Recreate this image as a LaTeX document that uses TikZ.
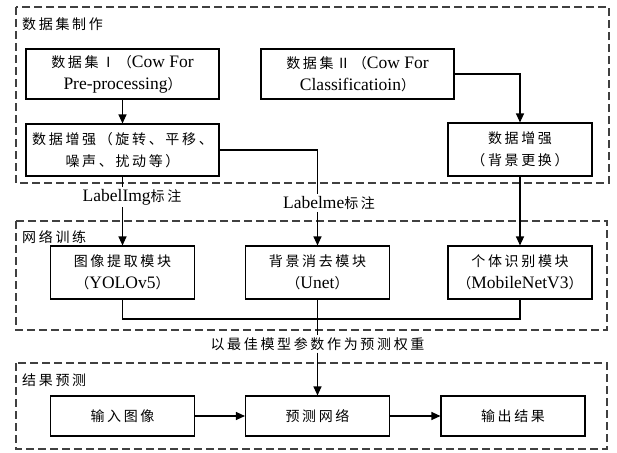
\documentclass[tikz,border=0pt]{standalone}
\usepackage{fontspec}
\setmainfont{Liberation Serif}
\newfontfamily\cjk[LetterSpace=19]{Noto Sans CJK SC}
\usetikzlibrary{arrows.meta,positioning}
\newcommand{\en}[1]{{\rmfamily\fontsize{17.5}{22}\selectfont #1}}

\begin{document}
\begin{tikzpicture}[x=1pt, y=-1pt,
    box/.style={draw, line width=1.1pt, align=center, inner sep=1pt, minimum width=144pt, minimum height=53pt, font=\cjk\fontsize{14}{22}\selectfont},
    wbox/.style={box, minimum width=193pt, minimum height=50pt},
    fbox/.style={box, minimum height=40pt},
    lbl/.style={inner sep=2pt, font=\cjk\fontsize{14}{20}\selectfont},
    title/.style={anchor=west, inner sep=0pt, font=\cjk\fontsize{14}{20}\selectfont},
    grp/.style={draw=black!75, line width=1.2pt, dash pattern=on 8pt off 4pt},
    arr/.style={-{Triangle[length=9pt, width=8pt]}, line width=1.1pt}
]
\useasboundingbox (0,0) rectangle (617,452);
% frames
\draw[grp] (16,7) rectangle (609,183);
\draw[grp] (16,221) rectangle (607,330);
\draw[grp] (16,363) rectangle (607,449);
\node[title] (t1) at (22,24) {数据集制作};
\node[title] (t2) at (22,237) {网络训练};
\node[title] (t3) at (22,380) {结果预测};
% data set
\node[wbox] (set1) at (122.5,74) {数据集Ⅰ（\en{Cow For}\\\en{Pre-processing}）};
\node[wbox] (set2) at (357.5,74) {数据集Ⅱ（\en{Cow For}\\\en{Classificatioin}）};
\node[wbox, minimum height=52pt] (aug1) at (122.5,150) {数据增强（旋转、平移、\\噪声、扰动等）};
\node[box] (aug2) at (520,149.5) {数据增强\\（背景更换）};
% training
\node[box] (yolo) at (122.5,272.5) {图像提取模块\\（\en{YOLOv5}）};
\node[box] (unet) at (317.5,272.5) {背景消去模块\\（\en{Unet}）};
\node[box] (mobile) at (520,272.5) {个体识别模块\\（\en{MobileNetV3}）};
% prediction
\node[fbox] (input) at (122.5,416) {输入图像};
\node[fbox] (pred) at (317.5,416) {预测网络};
\node[fbox] (output) at (513,416) {输出结果};
% labels
\node[lbl] (lblimg) at (132,197) {\en{LabelImg}标注};
\node[lbl] (lblme) at (329,203) {\en{Labelme}标注};
\node[lbl] (lblbest) at (317.5,344) {以最佳模型参数作为预测权重};
\coordinate (mrg) at (317.5,319);
% connectors
\draw[arr] (set1) -- (aug1);
\draw[arr] (set2.east) -| (aug2.north);
\draw[line width=1.1pt] (aug1.south) -- (lblimg.north -| aug1.south);
\draw[arr] (lblimg.south -| aug1.south) -- (yolo.north);
\draw[line width=1.1pt] (aug1.east) -| (lblme.north -| unet.north);
\draw[arr] (lblme.south -| unet.north) -- (unet.north);
\draw[arr] (aug2) -- (mobile);
\draw[line width=1.1pt] (yolo.south) |- (mrg) -| (mobile.south);
\draw[line width=1.1pt] (unet.south) -- (lblbest.north -| unet.south);
\draw[arr] (lblbest.south -| pred.north) -- (pred.north);
\draw[arr] (input) -- (pred);
\draw[arr] (pred) -- (output);
\end{tikzpicture}
\end{document}
